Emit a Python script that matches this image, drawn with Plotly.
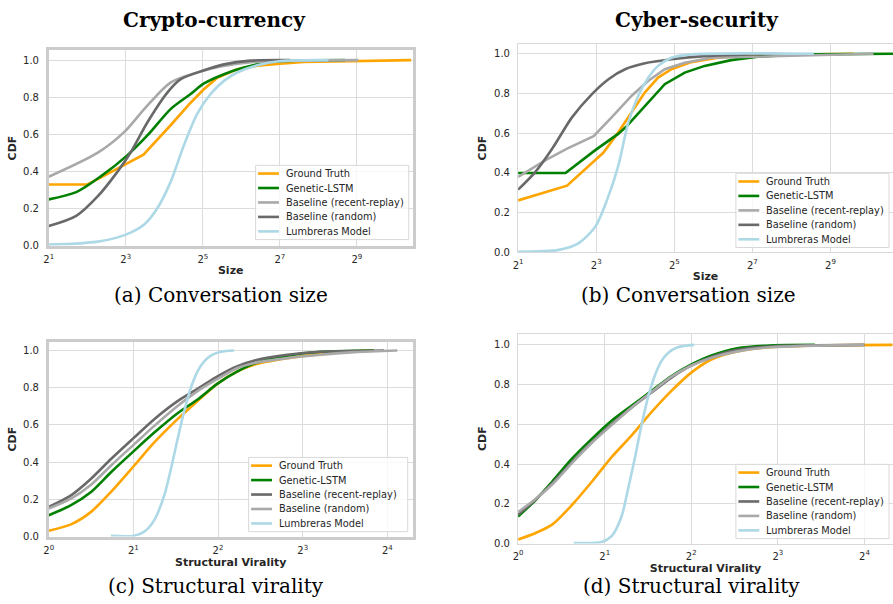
import math
import plotly.graph_objects as go

# ---------------- data ----------------
# (a) Crypto-currency: conversation size CDF
a_gt_x = [2, 4, 5, 8.3, 11, 18, 25.7, 32.3, 41.5, 59.4, 85, 129, 196, 1360]
a_gt_y = [0.329, 0.329, 0.364, 0.444, 0.49, 0.65, 0.77, 0.84, 0.905, 0.95, 0.97, 0.98, 0.99, 1.0]
a_lstm_x = [2, 3.28, 5.1, 8.3, 11.85, 18, 25.7, 32.7, 46.8, 67, 108, 413]
a_lstm_y = [0.249, 0.288, 0.373, 0.489, 0.595, 0.737, 0.817, 0.874, 0.924, 0.96, 0.99, 1.0]
a_recent_x = [2, 4.84, 7.8, 11.2, 18, 29, 44, 80, 526]
a_recent_y = [0.371, 0.501, 0.613, 0.737, 0.88, 0.933, 0.965, 0.99, 1.0]
a_random_x = [2, 3.28, 4.84, 6.92, 8.8, 11.85, 16.96, 21.5, 32.7, 46.8, 75.4, 154]
a_random_y = [0.105, 0.16, 0.266, 0.4, 0.506, 0.666, 0.826, 0.897, 0.945, 0.977, 0.997, 1.0]
a_lumb_x = [2, 3, 4.84, 6.92, 8.8, 11.2, 14.2, 18, 22.8, 29, 36.8, 46.8, 59.4, 85, 129, 307]
a_lumb_y = [0.005, 0.009, 0.021, 0.044, 0.071, 0.115, 0.204, 0.346, 0.542, 0.711, 0.817, 0.888, 0.933, 0.972, 0.995, 1.0]

# (b) Cyber-security: conversation size CDF
b_gt_x = [2, 4.77, 7.87, 9.11, 11.88, 15.02, 19.0, 24.0, 30.4, 43.3, 69.3, 124.8, 772]
b_gt_y = [0.262, 0.336, 0.465, 0.503, 0.606, 0.706, 0.806, 0.88, 0.922, 0.958, 0.98, 0.993, 1.0]
b_lstm_x = [2, 4.64, 7.87, 11.88, 13.76, 19.0, 27.0, 38.5, 54.8, 87.7, 140.3, 301, 1552]
b_lstm_y = [0.4, 0.4, 0.515, 0.598, 0.636, 0.739, 0.847, 0.905, 0.939, 0.968, 0.985, 0.997, 1.0]
b_recent_x = [2, 3.26, 4.77, 7.64, 10.56, 15.02, 20.2, 27.0, 38.5, 61.6, 1097]
b_recent_y = [0.38, 0.465, 0.523, 0.585, 0.681, 0.789, 0.864, 0.922, 0.955, 0.98, 1.0]
b_random_x = [2, 2.73, 3.67, 5.22, 7.42, 9.95, 13.36, 19.0, 30.4, 54.8, 199.6]
b_random_y = [0.316, 0.407, 0.523, 0.681, 0.797, 0.872, 0.922, 0.952, 0.972, 0.988, 1.0]
b_lumb_x = [2, 4.12, 5.87, 7.87, 9.67, 11.88, 14.16, 16.9, 20.2, 24.0, 30.4, 43.3, 381]
b_lumb_y = [0.003, 0.013, 0.047, 0.13, 0.262, 0.44, 0.656, 0.789, 0.88, 0.939, 0.98, 0.997, 1.0]

# (c) Crypto-currency: structural virality CDF
c_gt_x = [1, 1.2, 1.414, 1.665, 2.015, 2.373, 2.872, 3.383, 3.984, 4.69, 5.525, 7.06, 9.27, 12.18, 14.35]
c_gt_y = [0.032, 0.066, 0.133, 0.24, 0.382, 0.506, 0.631, 0.728, 0.822, 0.888, 0.929, 0.959, 0.982, 0.995, 1.0]
c_lstm_x = [1, 1.2, 1.414, 1.665, 2.015, 2.373, 2.872, 3.383, 3.984, 4.69, 5.525, 7.06, 9.27, 14.35]
c_lstm_y = [0.115, 0.169, 0.24, 0.346, 0.462, 0.559, 0.663, 0.737, 0.822, 0.888, 0.936, 0.972, 0.993, 1.0]
c_recent_x = [1, 1.2, 1.414, 1.665, 2.015, 2.373, 2.872, 3.383, 3.984, 4.69, 5.525, 7.06, 9.27, 15.57]
c_recent_y = [0.16, 0.222, 0.311, 0.417, 0.533, 0.631, 0.728, 0.794, 0.861, 0.915, 0.95, 0.977, 0.993, 1.0]
c_random_x = [1, 1.2, 1.414, 1.665, 2.015, 2.373, 2.872, 3.383, 3.984, 4.69, 5.525, 7.06, 9.27, 12.18, 17.36]
c_random_y = [0.151, 0.204, 0.279, 0.382, 0.497, 0.595, 0.702, 0.782, 0.847, 0.906, 0.936, 0.959, 0.977, 0.991, 1.0]
c_lumb_x = [1.665, 2.015, 2.187, 2.373, 2.575, 2.72, 2.872, 3.033, 3.203, 3.383, 3.572, 3.772, 4.093, 4.565]
c_lumb_y = [0.004, 0.005, 0.027, 0.089, 0.222, 0.364, 0.524, 0.675, 0.8, 0.888, 0.941, 0.972, 0.993, 1.0]

# (d) Cyber-security: structural virality CDF
d_gt_x = [1, 1.15, 1.313, 1.539, 1.804, 2.114, 2.478, 2.904, 3.404, 3.99, 4.677, 5.78, 7.53, 10.9, 20.03]
d_gt_y = [0.02, 0.053, 0.095, 0.194, 0.311, 0.435, 0.543, 0.66, 0.767, 0.859, 0.925, 0.967, 0.988, 0.997, 1.0]
d_lstm_x = [1, 1.15, 1.313, 1.539, 1.804, 2.114, 2.478, 2.904, 3.404, 3.99, 4.677, 5.78, 7.53, 10.76]
d_lstm_y = [0.136, 0.219, 0.311, 0.427, 0.527, 0.618, 0.693, 0.767, 0.842, 0.9, 0.945, 0.983, 0.997, 1.0]
d_recent_x = [1, 1.15, 1.313, 1.539, 1.804, 2.114, 2.478, 2.904, 3.404, 3.99, 4.677, 5.78, 7.53, 16]
d_recent_y = [0.145, 0.222, 0.302, 0.41, 0.51, 0.601, 0.684, 0.759, 0.834, 0.895, 0.938, 0.975, 0.992, 1.0]
d_random_x = [1, 1.15, 1.313, 1.539, 1.804, 2.114, 2.478, 2.904, 3.404, 3.99, 4.677, 5.78, 7.53, 16]
d_random_y = [0.158, 0.224, 0.297, 0.405, 0.507, 0.596, 0.684, 0.762, 0.839, 0.895, 0.934, 0.967, 0.988, 1.0]
d_lumb_x = [1.56, 1.953, 2.114, 2.289, 2.413, 2.544, 2.683, 2.828, 2.982, 3.145, 3.315, 3.589, 4.096]
d_lumb_y = [0.003, 0.008, 0.037, 0.136, 0.277, 0.427, 0.593, 0.734, 0.842, 0.917, 0.958, 0.988, 1.0]

size_ticks = [2, 8, 32, 128, 512]
size_ticktext = ["2<sup>1</sup>", "2<sup>3</sup>", "2<sup>5</sup>", "2<sup>7</sup>", "2<sup>9</sup>"]
vir_ticks = [1, 2, 4, 8, 16]
vir_ticktext = ["2<sup>0</sup>", "2<sup>1</sup>", "2<sup>2</sup>", "2<sup>3</sup>", "2<sup>4</sup>"]
cdf_ticks = [0.0, 0.2, 0.4, 0.6, 0.8, 1.0]

ORANGE = "#FFA500"
GREEN = "#008000"
LIGHTGRAY = "#A9A9A9"
DIMGRAY = "#696969"
LIGHTBLUE = "#ADD8E6"

W, H = 893, 604
TEXT = "#262626"
GRID = "#dcdcdc"

fig = go.Figure()

panels = [
    dict(ax="", xl="Size", ticks=(size_ticks, size_ticktext), xr=(1, 10.45),
         dx=(44, 410), dy=(51, 248), one=60.7, border=2.6, bcol="#cccccc", ymirror=True,
         series=[("Ground Truth", a_gt_x, a_gt_y, ORANGE, "linear"),
                 ("Genetic-LSTM", a_lstm_x, a_lstm_y, GREEN, "spline"),
                 ("Baseline (recent-replay)", a_recent_x, a_recent_y, LIGHTGRAY, "spline"),
                 ("Baseline (random)", a_random_x, a_random_y, DIMGRAY, "spline"),
                 ("Lumbreras Model", a_lumb_x, a_lumb_y, LIGHTBLUE, "spline")],
         box=(252, 167, 154, 75)),
    dict(ax="2", xl="Size", ticks=(size_ticks, size_ticktext), xr=(1, 10.6),
         dx=(516, 893), dy=(44, 255), one=54.3, border=1.3, bcol="#d9d9d9", ymirror=False,
         series=[("Ground Truth", b_gt_x, b_gt_y, ORANGE, "linear"),
                 ("Genetic-LSTM", b_lstm_x, b_lstm_y, GREEN, "linear"),
                 ("Baseline (recent-replay)", b_recent_x, b_recent_y, LIGHTGRAY, "linear"),
                 ("Baseline (random)", b_random_x, b_random_y, DIMGRAY, "spline"),
                 ("Lumbreras Model", b_lumb_x, b_lumb_y, LIGHTBLUE, "spline")],
         box=(735, 175, 154, 75)),
    dict(ax="3", xl="Structural Virality", ticks=(vir_ticks, vir_ticktext), xr=(0, 4.3),
         dx=(44, 410), dy=(345, 542), one=354.0, border=2.6, bcol="#cccccc", ymirror=True,
         series=[("Ground Truth", c_gt_x, c_gt_y, ORANGE, "spline"),
                 ("Genetic-LSTM", c_lstm_x, c_lstm_y, GREEN, "spline"),
                 ("Baseline (recent-replay)", c_recent_x, c_recent_y, DIMGRAY, "spline"),
                 ("Baseline (random)", c_random_x, c_random_y, LIGHTGRAY, "spline"),
                 ("Lumbreras Model", c_lumb_x, c_lumb_y, LIGHTBLUE, "spline")],
         box=(245, 462, 160, 75)),
    dict(ax="4", xl="Structural Virality", ticks=(vir_ticks, vir_ticktext), xr=(0, 4.33),
         dx=(516, 893), dy=(337, 549), one=348.3, border=1.3, bcol="#d9d9d9", ymirror=False,
         series=[("Ground Truth", d_gt_x, d_gt_y, ORANGE, "spline"),
                 ("Genetic-LSTM", d_lstm_x, d_lstm_y, GREEN, "spline"),
                 ("Baseline (recent-replay)", d_recent_x, d_recent_y, DIMGRAY, "spline"),
                 ("Baseline (random)", d_random_x, d_random_y, LIGHTGRAY, "spline"),
                 ("Lumbreras Model", d_lumb_x, d_lumb_y, LIGHTBLUE, "spline")],
         box=(735, 469, 154, 75)),
]


def px(x):
    return x / W


def py(y):
    return 1 - y / H


layout = {}
shapes = []
annotations = []
for p in panels:
    xa, ya = "x" + p["ax"], "y" + p["ax"]
    for name, xs, ys, col, shape in p["series"]:
        line = dict(color=col, width=2.6, shape=shape)
        if shape == "spline":
            line["smoothing"] = 0.8
        fig.add_trace(go.Scatter(x=xs, y=ys, mode="lines", name=name, line=line,
                                 xaxis=xa, yaxis=ya, showlegend=False))
    # CDF = 0 on the bottom edge, CDF = 1 at the "one" pixel row
    top_px, bot_px = p["dy"]
    ymax = (bot_px - top_px) / (bot_px - p["one"])
    tv, tt = p["ticks"]
    tickfont = dict(family="DejaVu Sans", size=10, color=TEXT)
    titlefont = dict(family="DejaVu Sans", size=11, color=TEXT)
    layout["xaxis" + p["ax"]] = dict(
        domain=[px(p["dx"][0]), px(p["dx"][1])], anchor=ya, type="log",
        range=[p["xr"][0] * math.log10(2), p["xr"][1] * math.log10(2)],
        tickvals=tv, ticktext=tt, showgrid=True, gridcolor=GRID, gridwidth=1,
        showline=True, linecolor=p["bcol"], linewidth=p["border"], mirror=True,
        ticks="", zeroline=False, ticklabelstandoff=3, tickfont=tickfont,
        title=dict(text="<b>%s</b>" % p["xl"], standoff=2, font=titlefont),
    )
    layout["yaxis" + p["ax"]] = dict(
        domain=[py(bot_px), py(top_px)], anchor=xa,
        range=[0, ymax], tickvals=cdf_ticks, tickformat=".1f",
        showgrid=True, gridcolor=GRID, gridwidth=1, zeroline=False,
        showline=True, linecolor=p["bcol"], linewidth=p["border"], mirror=p["ymirror"],
        ticks="", ticklabelstandoff=5, tickfont=tickfont,
        title=dict(text="<b>CDF</b>", standoff=5, font=titlefont),
    )

    # legend box drawn in page pixels
    bx, by, bw, bh = p["box"]
    shapes.append(dict(type="rect", xref="paper", yref="paper",
                       x0=px(bx), x1=px(bx + bw), y0=py(by + bh), y1=py(by),
                       fillcolor="rgba(255,255,255,0.8)",
                       line=dict(color="#d8d8d8", width=1), layer="above"))
    for i, (name, _, _, col, _) in enumerate(p["series"]):
        ry = by + 8.3 + 14.6 * i
        shapes.append(dict(type="line", xref="paper", yref="paper",
                           x0=px(bx + 2.5), x1=px(bx + 23.5), y0=py(ry), y1=py(ry),
                           line=dict(color=col, width=2.6), layer="above"))
        annotations.append(dict(text=name, x=px(bx + 28.5), y=py(ry), xref="paper", yref="paper",
                                showarrow=False, xanchor="left", yanchor="middle",
                                font=dict(family="DejaVu Sans", size=9.8, color=TEXT)))

for text, cx, cy in [("<b>Crypto-currency</b>", 211, 20), ("<b>Cyber-security</b>", 696, 20)]:
    annotations.append(dict(text=text, x=px(cx), y=py(cy), xref="paper", yref="paper",
                            showarrow=False, xanchor="center", yanchor="middle",
                            font=dict(family="DejaVu Serif", size=20, color="black")))
for text, cx, cy in [("(a) Conversation size", 217, 298), ("(b) Conversation size", 687, 298),
                     ("(c) Structural virality", 212, 592), ("(d) Structural virality", 690, 592)]:
    annotations.append(dict(text=text, x=px(cx), y=py(cy), xref="paper", yref="paper",
                            showarrow=False, xanchor="center", yanchor="middle",
                            font=dict(family="DejaVu Serif", size=20, color="black")))

fig.update_layout(
    width=W, height=H, margin=dict(l=0, r=0, t=0, b=0),
    paper_bgcolor="white", plot_bgcolor="white", showlegend=False,
    shapes=shapes, annotations=annotations, **layout,
)

fig.write_html("out.html")
